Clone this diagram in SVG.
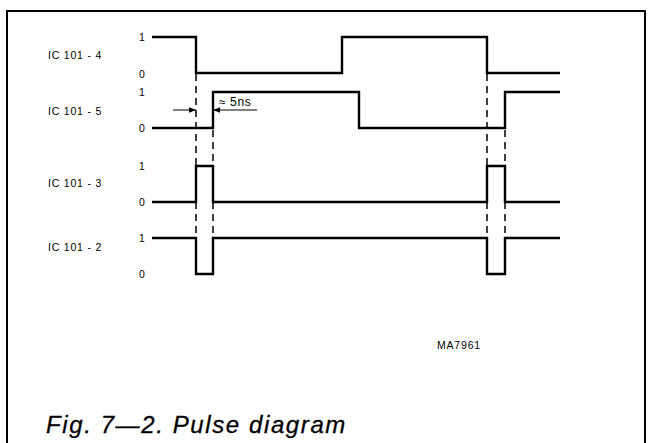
<svg xmlns="http://www.w3.org/2000/svg" width="648" height="443" viewBox="0 0 648 443">
<defs>
<style>
.frame{fill:none;stroke:#000;stroke-width:2}
.sig{fill:none;stroke:#000;stroke-width:2.4;stroke-linejoin:miter}
.dash{fill:none;stroke:#000;stroke-width:1.5;stroke-dasharray:7 5}
.thin{fill:none;stroke:#000;stroke-width:1}
.lbl{font-family:"Liberation Sans",Arial,sans-serif;font-size:10.5px;letter-spacing:0.8px;fill:#000}
.lv{font-family:"Liberation Sans",Arial,sans-serif;font-size:10.5px;fill:#000;text-anchor:middle}
.cap{font-family:"Liberation Sans",Arial,sans-serif;font-size:24px;font-style:italic;letter-spacing:1.6px;fill:#000;stroke:#000;stroke-width:0.3}
</style>
<marker id="ar" viewBox="0 0 10 10" refX="10" refY="5" markerWidth="7" markerHeight="7" markerUnits="userSpaceOnUse" orient="auto">
<path d="M0,1 L10,5 L0,9 Z" fill="#000"/>
</marker>
</defs>
<rect class="frame" x="7" y="11" width="638" height="450"/>

<g id="connectors">
<path class="dash" d="M196,74 V166 M196,202 V238"/>
<path class="dash" d="M213,130 V166 M213,202 V238"/>
<path class="dash" d="M487,74 V166 M487,202 V238"/>
<path class="dash" d="M505,130 V166 M505,202 V238"/>
<line class="thin" x1="173" y1="110" x2="196" y2="110" marker-end="url(#ar)"/>
<line class="thin" x1="257" y1="110" x2="213" y2="110" marker-end="url(#ar)"/>
</g>

<g id="ic101-4">
<text class="lbl" x="48" y="59">IC 101 - 4</text>
<text class="lv" x="142" y="41">1</text>
<text class="lv" x="142" y="78">0</text>
<path class="sig" d="M152,37 H196 V73 H342 V37 H487 V73 H560"/>
</g>

<g id="ic101-5">
<text class="lbl" x="48" y="115">IC 101 - 5</text>
<text class="lv" x="142" y="96">1</text>
<text class="lv" x="142" y="132">0</text>
<path class="sig" d="M152,128 H213 V92 H359 V128 H505 V92 H560"/>
</g>

<g id="ic101-3">
<text class="lbl" x="48" y="187">IC 101 - 3</text>
<text class="lv" x="142" y="170">1</text>
<text class="lv" x="142" y="206">0</text>
<path class="sig" d="M152,202 H196 V166 H213 V202 H487 V166 H505 V202 H560"/>
</g>

<g id="ic101-2">
<text class="lbl" x="48" y="251">IC 101 - 2</text>
<text class="lv" x="142" y="242">1</text>
<text class="lv" x="142" y="278">0</text>
<path class="sig" d="M152,238 H196 V274 H213 V238 H487 V274 H505 V238 H560"/>
</g>

<g id="delay-label">
<text class="lbl" x="219" y="106" style="font-size:12px;letter-spacing:0.6px">≈ 5ns</text>
</g>

<g id="ref">
<text class="lbl" x="437" y="349">MA7961</text>
</g>

<text class="cap" x="46" y="433">Fig. 7—2. Pulse diagram</text>
</svg>
